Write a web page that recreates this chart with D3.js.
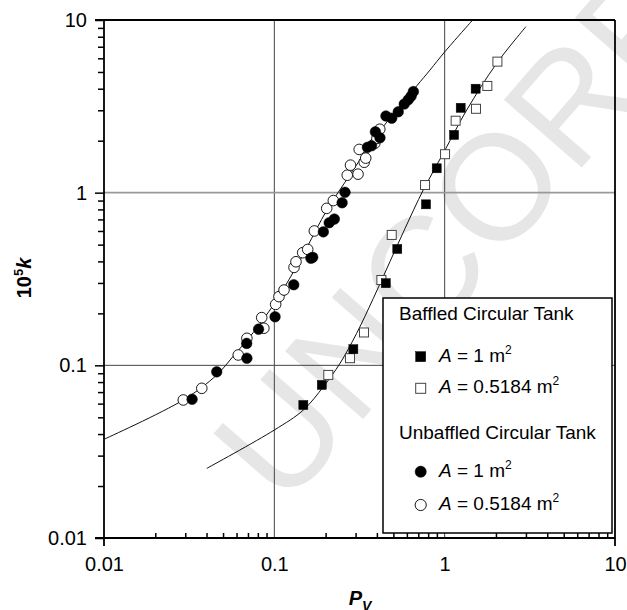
<!DOCTYPE html>
<html>
<head>
<meta charset="utf-8">
<script src="https://cdn.jsdelivr.net/npm/d3@7"></script>
<style>
	body { margin: 0; background: #fff; }
	svg { display: block; font-family: "Liberation Sans", Arial, Helvetica, sans-serif; }
</style>
</head>
<body>
<svg id="chart" width="627" height="610"></svg>
<script>
// [Pv, 10^5 k]
var unbaffledA1 = [[0.0329,0.0636],[0.0459,0.0917],[0.0688,0.134],[0.0690,0.110],[0.0808,0.162],[0.101,0.191],
	[0.130,0.293],[0.164,0.417],[0.168,0.422],[0.194,0.593],[0.210,0.670],[0.225,0.703],[0.250,0.874],[0.260,1.005],
	[0.352,1.83],[0.372,1.87],[0.392,2.25],[0.417,2.08],[0.452,2.78],[0.489,2.70],[0.534,2.94],[0.579,3.26],
	[0.611,3.45],[0.635,3.62],[0.655,3.85]];
var unbaffledA05 = [[0.0292,0.063],[0.0375,0.0736],[0.0614,0.1148],[0.0690,0.1434],[0.0843,0.189],[0.0868,0.164],
	[0.1018,0.2255],[0.1065,0.25],[0.114,0.273],[0.1305,0.369],[0.134,0.398],[0.1467,0.449],[0.157,0.469],
	[0.1717,0.60],[0.203,0.811],[0.222,0.90],[0.268,1.262],[0.280,1.443],[0.310,1.28],[0.315,1.78],[0.337,1.50],
	[0.344,1.585],[0.389,1.93],[0.400,2.06],[0.416,2.33]];
var baffledA1 = [[0.148,0.0589],[0.190,0.077],[0.291,0.124],[0.451,0.299],[0.527,0.472],[0.777,0.856],
	[0.898,1.384],[1.135,2.16],[1.242,3.10],[1.52,4.0]];
var baffledA05 = [[0.2074,0.088],[0.278,0.11],[0.336,0.155],[0.425,0.312],[0.489,0.569],[0.767,1.107],
	[1.005,1.67],[1.16,2.61],[1.527,3.06],[1.78,4.15],[2.04,5.74]];

// fitted lines
var unbaffledFit = [[0.01,0.0373],[0.0292,0.063],[0.0459,0.088],[0.0574,0.113],[0.0753,0.155],[0.1,0.228],
	[0.13,0.35],[0.155,0.48],[0.203,0.79],[0.26,1.15],[0.436,2.41],[0.685,4.15],[0.82,5.13],[1.0,6.53],[1.46,10]];
var baffledFit = [[0.0401,0.0253],[0.1,0.0422],[0.148,0.0551],[0.194,0.0752],[0.243,0.1027],[0.304,0.153],
	[0.381,0.244],[0.478,0.40],[0.585,0.62],[0.75,1.04],[1.0,1.75],[1.347,3.01],[2.02,5.61],[3.0,9.15]];

var majorTicks = [0.01, 0.1, 1, 10];
var tickLabels = ["0.01", "0.1", "1", "10"];
var gridValues = [0.1, 1];

(function() {
	var svg = d3.select("#chart");
	var left = 104, right = 615, plotTop = 20, bottom = 538;

	var x = d3.scaleLog().domain([0.01, 10]).range([left, right]);
	var y = d3.scaleLog().domain([0.01, 10]).range([bottom, plotTop]);

	var minorTicks = [];
	[0.01, 0.1, 1].forEach(function(d) {
		for (var m = 2; m < 10; m++) minorTicks.push(d * m);
	});

	// watermark
	svg.append("text")
		.attr("transform", "translate(284,510) rotate(-49)")
		.attr("font-size", 150)
		.attr("fill", "#e6e6e6")
		.text("UNCORRECTED PROOF");

	// grid
	var grid = svg.append("g").attr("class", "grid");
	grid.selectAll("line.gx")
		.data(gridValues)
		.enter().append("line")
		.attr("class", "gx")
		.attr("x1", function(d) { return x(d); })
		.attr("x2", function(d) { return x(d); })
		.attr("y1", plotTop).attr("y2", bottom)
		.attr("stroke", "#444").attr("stroke-width", 1);
	grid.selectAll("line.gy")
		.data(gridValues)
		.enter().append("line")
		.attr("class", "gy")
		.attr("y1", function(d) { return y(d); })
		.attr("y2", function(d) { return y(d); })
		.attr("x1", left).attr("x2", right)
		.attr("stroke", function(d) { return d == 1 ? "#999" : "#444"; })
		.attr("stroke-width", function(d) { return d == 1 ? 1.6 : 1; });

	// axes
	var fmt = function(d) { return tickLabels[majorTicks.indexOf(d)]; };

	svg.append("g")
		.attr("transform", "translate(" + left + ",0)")
		.call(d3.axisLeft(y).tickValues(majorTicks).tickFormat(fmt).tickSizeInner(9).tickSizeOuter(0).tickPadding(8));
	svg.append("g")
		.attr("transform", "translate(" + left + ",0)")
		.call(d3.axisLeft(y).tickValues(minorTicks).tickFormat("").tickSizeInner(6).tickSizeOuter(0));

	svg.append("g")
		.attr("transform", "translate(0," + bottom + ")")
		.call(d3.axisBottom(x).tickValues(majorTicks).tickFormat(fmt).tickSizeInner(0).tickSizeOuter(0).tickPadding(19));
	svg.append("g")
		.attr("transform", "translate(0," + bottom + ")")
		.call(d3.axisBottom(x).tickValues(minorTicks).tickFormat("").tickSizeInner(-5).tickSizeOuter(0));

	svg.selectAll(".domain").remove();
	svg.selectAll(".tick line").attr("stroke", "#000").attr("stroke-width", 1.5);
	svg.selectAll(".tick text")
		.attr("font-family", "'Liberation Sans', Arial, Helvetica, sans-serif")
		.attr("font-size", 20)
		.attr("fill", "#000");

	// frame
	var frame = [
		[left, plotTop, left, bottom + 8],
		[right, plotTop, right, bottom + 8],
		[left - 9, plotTop, right, plotTop],
		[left - 9, bottom, right, bottom]
	];
	svg.append("g").selectAll("line")
		.data(frame)
		.enter().append("line")
		.attr("x1", function(d) { return d[0]; })
		.attr("y1", function(d) { return d[1]; })
		.attr("x2", function(d) { return d[2]; })
		.attr("y2", function(d) { return d[3]; })
		.attr("stroke", "#000")
		.attr("stroke-width", 1.8);

	// fitted lines
	var line = d3.line()
		.x(function(d) { return x(d[0]); })
		.y(function(d) { return y(d[1]); })
		.curve(d3.curveCatmullRom);

	svg.append("g").selectAll("path")
		.data([unbaffledFit, baffledFit])
		.enter().append("path")
		.attr("d", line)
		.attr("fill", "none")
		.attr("stroke", "#111")
		.attr("stroke-width", 1);

	// points
	var pts = svg.append("g");
	var r = 5.3, s = 9;

	function circles(data, filled) {
		pts.append("g").selectAll("circle")
			.data(data)
			.enter().append("circle")
			.attr("cx", function(d) { return x(d[0]); })
			.attr("cy", function(d) { return y(d[1]); })
			.attr("r", r)
			.attr("fill", filled ? "#000" : "#fff")
			.attr("stroke", "#000")
			.attr("stroke-width", filled ? 0.5 : 0.9);
	}
	function squares(data, filled) {
		pts.append("g").selectAll("rect")
			.data(data)
			.enter().append("rect")
			.attr("x", function(d) { return x(d[0]) - s / 2; })
			.attr("y", function(d) { return y(d[1]) - s / 2; })
			.attr("width", s).attr("height", s)
			.attr("fill", filled ? "#000" : "#fff")
			.attr("stroke", filled ? "#000" : "#444")
			.attr("stroke-width", filled ? 0.5 : 1);
	}
	squares(baffledA05, false);
	squares(baffledA1, true);
	circles(unbaffledA05, false);
	circles(unbaffledA1, true);

	// axis titles
	var yt = svg.append("text")
		.attr("transform", "translate(31,278) rotate(-90)")
		.attr("text-anchor", "middle")
		.attr("font-size", 20)
		.attr("font-weight", "bold");
	yt.append("tspan").text("10");
	yt.append("tspan").attr("dy", -8).attr("font-size", 13).text("5");
	yt.append("tspan").attr("dy", 8).attr("font-style", "italic").text("k");

	var xt = svg.append("text")
		.attr("x", 360).attr("y", 605)
		.attr("text-anchor", "middle")
		.attr("font-size", 20)
		.attr("font-weight", "bold")
		.attr("font-style", "italic");
	xt.append("tspan").text("P");
	xt.append("tspan").attr("dy", 6).attr("font-size", 14).text("V");

	// legend
	var legendRows = [
		{ head: "Baffled Circular Tank", y: 320 },
		{ shape: "square", filled: true, area: "1", y: 361.7 },
		{ shape: "square", filled: false, area: "0.5184", y: 393.3 },
		{ head: "Unbaffled Circular Tank", y: 439.3 },
		{ shape: "circle", filled: true, area: "1", y: 476.7 },
		{ shape: "circle", filled: false, area: "0.5184", y: 510 }
	];

	var legend = svg.append("g").attr("class", "legend");
	legend.append("rect")
		.attr("x", 383).attr("y", 298)
		.attr("width", 229).attr("height", 235)
		.attr("fill", "#fff")
		.attr("stroke", "#000")
		.attr("stroke-width", 1.5);

	legendRows.forEach(function(row) {
		if (row.head) {
			legend.append("text")
				.attr("x", 399).attr("y", row.y)
				.attr("font-size", 19)
				.text(row.head);
			return;
		}
		var cy = row.y - 5;
		if (row.shape == "square") {
			legend.append("rect")
				.attr("x", 420.7 - 5).attr("y", cy - 5)
				.attr("width", 10).attr("height", 10)
				.attr("fill", row.filled ? "#000" : "#fff")
				.attr("stroke", row.filled ? "#000" : "#444")
				.attr("stroke-width", row.filled ? 0.5 : 1);
		} else {
			legend.append("circle")
				.attr("cx", 420.7).attr("cy", cy)
				.attr("r", 5.6)
				.attr("fill", row.filled ? "#000" : "#fff")
				.attr("stroke", "#000")
				.attr("stroke-width", row.filled ? 0.5 : 0.9);
		}
		var t = legend.append("text")
			.attr("x", 439).attr("y", row.y)
			.attr("font-size", 19);
		t.append("tspan").attr("font-style", "italic").text("A");
		t.append("tspan").text(" = " + row.area + " m");
		t.append("tspan").attr("dy", -8).attr("font-size", 12).text("2");
	});
})();
</script>
</body>
</html>
